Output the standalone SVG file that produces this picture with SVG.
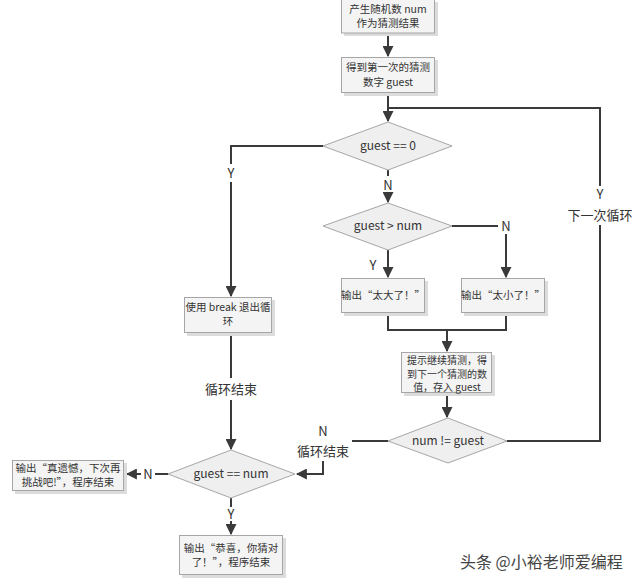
<svg xmlns="http://www.w3.org/2000/svg" width="640" height="584" viewBox="0 0 640 584">
<style>
.box{fill:#f4f4f4;stroke:#a6a6a6;stroke-width:1}
.sh{fill:#dcdcdc}
.dia{fill:#efefef;stroke:#a6a6a6;stroke-width:1}
.ln{fill:none;stroke:#3a3a3a;stroke-width:2}
text{font-family:"Noto Sans CJK SC","Noto Sans",sans-serif;fill:#333}
.t{font-size:10.5px;text-anchor:middle}
.s{font-size:10px;text-anchor:middle}
.d{font-size:12px;text-anchor:middle}
.l{font-size:13px;text-anchor:middle}
</style>
<defs>
<marker id="ah" viewBox="0 0 10 10" refX="9" refY="5" markerWidth="5.5" markerHeight="5.5" orient="auto-start-reverse" markerUnits="strokeWidth">
<path d="M0,0 L10,5 L0,10 z" fill="#3a3a3a"/>
</marker>
</defs>
<rect width="640" height="584" fill="#fff"/>
<g id="connectors">
<line class="ln" x1="388" y1="33" x2="388" y2="56" marker-end="url(#ah)"/>
<line class="ln" x1="388" y1="93" x2="388" y2="121" marker-end="url(#ah)"/>
<polyline class="ln" points="323,146 231,146 231,164"/>
<line class="ln" x1="231" y1="182" x2="231" y2="296" marker-end="url(#ah)"/>
<line class="ln" x1="388" y1="170" x2="388" y2="176"/>
<line class="ln" x1="388" y1="194" x2="388" y2="202" marker-end="url(#ah)"/>
<line class="ln" x1="452" y1="226" x2="498" y2="226"/>
<line class="ln" x1="506" y1="234" x2="506" y2="277" marker-end="url(#ah)"/>
<line class="ln" x1="388" y1="250" x2="388" y2="277" marker-end="url(#ah)"/>
<polyline class="ln" points="388,313 388,330 506,330 506,313"/>
<line class="ln" x1="447" y1="330" x2="447" y2="351" marker-end="url(#ah)"/>
<line class="ln" x1="447" y1="393" x2="447" y2="417" marker-end="url(#ah)"/>
<polyline class="ln" points="507,441 600,441 600,225"/>
<polyline class="ln" points="600,186 600,108 388,108"/>
<line class="ln" x1="231" y1="333" x2="231" y2="378"/>
<line class="ln" x1="231" y1="400" x2="231" y2="449" marker-end="url(#ah)"/>
<line class="ln" x1="388" y1="441" x2="352" y2="441"/>
<polyline class="ln" points="323,461 323,474 297,474" marker-end="url(#ah)"/>
<line class="ln" x1="168" y1="474" x2="155" y2="474"/>
<line class="ln" x1="141" y1="474" x2="127" y2="474" marker-end="url(#ah)"/>
<line class="ln" x1="231" y1="498" x2="231" y2="507"/>
<line class="ln" x1="231" y1="521" x2="231" y2="534" marker-end="url(#ah)"/>
</g>
<g id="labels">
<text class="l" x="231" y="178">Y</text>
<text class="l" x="388" y="190">N</text>
<text class="l" x="506" y="231">N</text>
<text class="l" x="373" y="270">Y</text>
<text class="l" x="600" y="199">Y</text>
<text class="l" x="600" y="220">下一次循环</text>
<text class="l" x="231" y="394">循环结束</text>
<text class="l" x="323" y="436">N</text>
<text class="l" x="323" y="456">循环结束</text>
<text class="l" x="148" y="479">N</text>
<text class="l" x="231" y="519">Y</text>
</g>
<g id="n1">
<rect class="sh" x="344" y="2" width="94" height="34"/>
<rect class="box" x="341.5" y="-1" width="93" height="34"/>
<text class="t" x="388" y="13">产生随机数 num</text>
<text class="t" x="388" y="27">作为猜测结果</text>
</g>
<g id="n2">
<rect class="sh" x="344" y="60" width="94" height="36"/>
<rect class="box" x="341.5" y="57.5" width="93" height="35"/>
<text class="t" x="388" y="71">得到第一次的猜测</text>
<text class="t" x="388" y="86">数字  guest</text>
</g>
<g id="d1">
<polygon class="dia" points="388,122 452,146 388,170 323,146"/>
<text class="d" x="388" y="150">guest == 0</text>
</g>
<g id="d2">
<polygon class="dia" points="388,203 452,226 388,250 323,226"/>
<text class="d" x="388" y="230">guest &gt; num</text>
</g>
<g id="n3">
<rect class="sh" x="344" y="281" width="84" height="35"/>
<rect class="box" x="341.5" y="278.5" width="83" height="34"/>
<text class="t" x="383" y="299">输出“太大了！”</text>
</g>
<g id="n4">
<rect class="sh" x="464" y="281" width="84" height="35"/>
<rect class="box" x="461.5" y="278.5" width="83" height="34"/>
<text class="t" x="503" y="299">输出“太小了！”</text>
</g>
<g id="n5">
<rect class="sh" x="404" y="355" width="91" height="41"/>
<rect class="box" x="401.5" y="352.5" width="90" height="40"/>
<text class="s" x="447" y="364">提示继续猜测，得</text>
<text class="s" x="447" y="377.5">到下一个猜测的数</text>
<text class="s" x="447" y="391">值，存入  guest</text>
</g>
<g id="d4">
<polygon class="dia" points="448,418 507,441 448,463 388,441"/>
<text class="d" x="448" y="445">num != guest</text>
</g>
<g id="n6">
<rect class="sh" x="187" y="300" width="88" height="36"/>
<rect class="box" x="184.5" y="297.5" width="87" height="35"/>
<text class="t" x="228" y="311">使用 break 退出循</text>
<text class="t" x="228" y="325">环</text>
</g>
<g id="d3">
<polygon class="dia" points="231,450 295,474 231,498 168,474"/>
<text class="d" x="231" y="478">guest == num</text>
</g>
<g id="n7">
<rect class="sh" x="15" y="463" width="112" height="31"/>
<rect class="box" x="12.5" y="460.5" width="111" height="30"/>
<text class="t" x="68" y="472">输出“真遗憾，下次再</text>
<text class="t" x="68" y="486">挑战吧!”，程序结束</text>
</g>
<g id="n8">
<rect class="sh" x="182" y="538" width="104" height="40"/>
<rect class="box" x="179.5" y="535.5" width="103" height="39"/>
<text class="t" x="231" y="552">输出“恭喜，你猜对</text>
<text class="t" x="231" y="566">了！”，程序结束</text>
</g>
<text x="460" y="568" style="font-size:16px;fill:#444">头条 @小裕老师爱编程</text>
</svg>
